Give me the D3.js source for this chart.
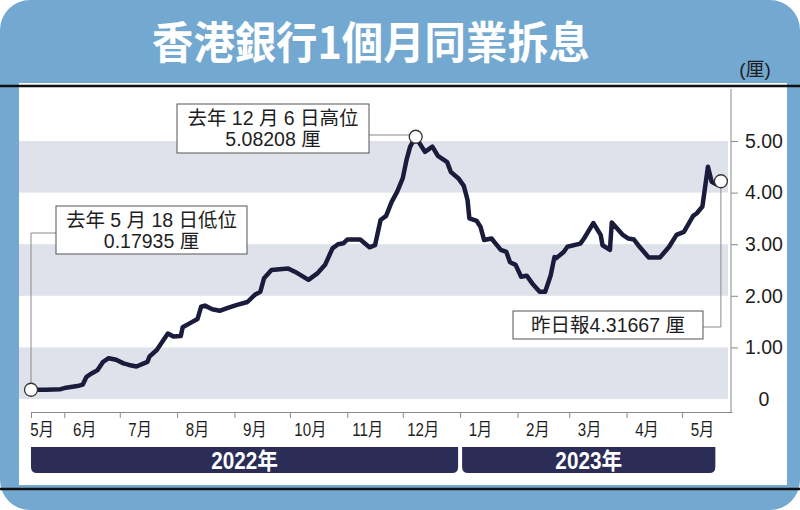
<!DOCTYPE html>
<html><head><meta charset="utf-8">
<script src="https://cdn.jsdelivr.net/npm/d3@7"></script>
<style>
body{margin:0;background:#fff}
svg{display:block}
text{font-family:"Liberation Sans","Noto Sans CJK TC",sans-serif}
</style>
</head><body>
<svg id="chart" width="800" height="510"></svg>
<script>
const title = "香港銀行1個月同業拆息";
const unitLabel = "(厘)";

const dates = [
"2022-05-14","2022-05-22","2022-05-30","2022-06-02","2022-06-08","2022-06-11","2022-06-13","2022-06-16","2022-06-19","2022-06-22","2022-06-25","2022-06-29",
"2022-07-03","2022-07-06","2022-07-10","2022-07-14","2022-07-16","2022-07-17","2022-07-21","2022-07-27","2022-07-30",
"2022-08-03","2022-08-04","2022-08-08","2022-08-12","2022-08-14","2022-08-16","2022-08-20","2022-08-24","2022-08-28",
"2022-09-02","2022-09-08","2022-09-12","2022-09-15","2022-09-17","2022-09-21","2022-09-30",
"2022-10-05","2022-10-11","2022-10-16","2022-10-20","2022-10-24","2022-10-27","2022-10-30",
"2022-11-01","2022-11-08","2022-11-13","2022-11-16","2022-11-19","2022-11-22","2022-11-25","2022-11-28",
"2022-12-01","2022-12-03","2022-12-05","2022-12-08","2022-12-10","2022-12-13","2022-12-17","2022-12-20","2022-12-25","2022-12-27","2022-12-31",
"2023-01-03","2023-01-05","2023-01-06","2023-01-10","2023-01-12","2023-01-14","2023-01-18","2023-01-20","2023-01-23","2023-01-26","2023-01-28","2023-01-31",
"2023-02-03","2023-02-06","2023-02-09","2023-02-13","2023-02-16","2023-02-19","2023-02-21","2023-02-22","2023-02-26","2023-02-28",
"2023-03-07","2023-03-09","2023-03-14","2023-03-18","2023-03-19","2023-03-23","2023-03-24","2023-03-27","2023-03-30",
"2023-04-02","2023-04-05","2023-04-08","2023-04-13","2023-04-19","2023-04-24","2023-04-28",
"2023-05-02","2023-05-07","2023-05-09","2023-05-12","2023-05-13","2023-05-15","2023-05-17","2023-05-20","2023-05-22"
];
const values = [
0.17935,0.18,0.19,0.22,0.25,0.28,0.43,0.50,0.56,0.72,0.79,0.76,
0.69,0.66,0.63,0.69,0.72,0.82,0.95,1.27,1.21,
1.22,1.39,1.47,1.55,1.79,1.81,1.74,1.71,1.76,
1.82,1.88,2.02,2.08,2.34,2.50,2.53,
2.44,2.31,2.44,2.60,2.92,3.00,3.02,
3.09,3.09,2.94,2.98,3.47,3.55,3.82,4.02,
4.28,4.63,4.89,5.08208,4.96,4.79,4.89,4.71,4.59,4.40,4.28,
4.13,3.86,3.50,3.45,3.34,3.08,3.11,3.02,2.89,2.85,2.65,2.60,
2.37,2.39,2.24,2.08,2.08,2.40,2.75,2.73,2.85,2.95,
3.01,3.11,3.41,3.18,2.98,2.89,3.42,3.30,3.18,
3.11,3.09,2.95,2.74,2.74,2.95,3.18,
3.24,3.55,3.60,3.73,3.99,4.50,4.21,4.15,4.22
];

const yTicks = [0,1,2,3,4,5];
const yTickLabels = ["0","1.00","2.00","3.00","4.00","5.00"];
const bandStarts = [0,2,4];
const monthLabels = ["5月","6月","7月","8月","9月","10月","11月","12月","1月","2月","3月","4月","5月"];
const yearLabels = ["2022年","2023年"];
const yearSpans = [["2022-05-14","2023-01-01"],["2023-01-01","2023-05-19"]];
const lowText = ["去年 5 月 18 日低位","0.17935 厘"];
const highText = ["去年 12 月 6 日高位","5.08208 厘"];
const lastText = ["昨日報4.31667 厘"];

const parse = d3.timeParse("%Y-%m-%d");
const data = dates.map((d,i)=>({date:parse(d), value:values[i]}));

const svg = d3.select("#chart");
const blue = "#73a9d1", navy = "#2b2d57", lineCol = "#1b1c3c", grey = "#8a8a8a", band = "#dfe2ea", ink = "#1e1e1e";

// background
svg.append("rect").attr("x",0).attr("y",0).attr("width",800).attr("height",510).attr("rx",30).attr("fill",blue);
svg.append("rect").attr("x",19).attr("y",83).attr("width",768).attr("height",402).attr("fill","#fff");
svg.append("line").attr("x1",0).attr("x2",800).attr("y1",86).attr("y2",86).attr("stroke","#111").attr("stroke-width",2.5);
svg.append("line").attr("x1",0).attr("x2",800).attr("y1",489).attr("y2",489).attr("stroke","#111").attr("stroke-width",2.5);

svg.append("text").attr("transform","translate(371,59) scale(0.94,1)").attr("text-anchor","middle")
  .attr("fill","#fff").attr("font-size",44).attr("font-weight",700)
  .style("font-family","'Noto Sans CJK TC','Liberation Sans',sans-serif").text(title);
svg.append("text").attr("x",755).attr("y",76).attr("text-anchor","middle")
  .attr("fill",ink).attr("font-size",19).text(unitLabel);

const x = d3.scaleTime().domain([parse("2022-05-14"), parse("2023-05-28")]).range([31, 732]);
const y = d3.scaleLinear().domain([0,5]).range([399,141]);

// bands
svg.append("g").selectAll("rect").data(bandStarts).join("rect")
  .attr("x",19).attr("width",709)
  .attr("y",d=>y(d+1)).attr("height",d=>y(d)-y(d+1))
  .attr("fill",band);

// y axis
svg.append("line").attr("x1",731).attr("x2",731).attr("y1",89).attr("y2",412).attr("stroke",grey).attr("stroke-width",1);
const yAxis = svg.append("g").attr("transform","translate(731,0)")
  .call(d3.axisRight(y).tickValues(yTicks).tickSize(7).tickFormat((d,i)=>yTickLabels[i]));
yAxis.select(".domain").remove();
yAxis.selectAll(".tick line").attr("stroke",grey).attr("opacity",d=>d===0?0:1);
yAxis.selectAll(".tick text").attr("x",33).attr("text-anchor","middle")
  .attr("font-size",19.5).attr("fill",ink).style("font-family","'Liberation Sans',sans-serif");

// x axis
const monthStarts = d3.timeMonth.range(parse("2022-06-01"), parse("2023-06-01"));
const xAxis = svg.append("g").attr("transform","translate(0,412)")
  .call(d3.axisBottom(x).tickValues([x.domain()[0], ...monthStarts]).tickSize(6).tickSizeOuter(0).tickFormat(""));
xAxis.select(".domain").attr("stroke",grey);
xAxis.selectAll(".tick line").attr("stroke",grey);

const labelDates = [d3.timeDay.offset(x.domain()[0],6), ...monthStarts.map(m=>d3.timeDay.offset(m,11))];
svg.append("g").selectAll("text").data(monthLabels).join("text")
  .attr("transform",(d,i)=>`translate(${x(labelDates[i])},436) scale(0.84,1)`).attr("text-anchor","middle")
  .attr("font-size",18).attr("fill",ink).text(d=>d);

// year bars
const yb0 = 447, yb1 = 473, r = 6;
yearLabels.forEach((lab,i)=>{
  const x0 = x(parse(yearSpans[i][0])) + (i===0?0:2);
  const x1 = x(parse(yearSpans[i][1])) - (i===0?2:0);
  svg.append("path").attr("fill",navy)
    .attr("d",`M${x0},${yb0}H${x1}V${yb1-r}Q${x1},${yb1} ${x1-r},${yb1}H${x0+r}Q${x0},${yb1} ${x0},${yb1-r}Z`);
  svg.append("text").attr("transform",`translate(${(x0+x1)/2},469) scale(0.9,1)`).attr("text-anchor","middle")
    .attr("fill","#fff").attr("font-size",23).attr("font-weight",700).text(lab);
});

// line
svg.append("path").datum(data)
  .attr("fill","none").attr("stroke",lineCol).attr("stroke-width",4.5)
  .attr("stroke-linejoin","round").attr("stroke-linecap","round")
  .attr("d",d3.line().x(d=>x(d.date)).y(d=>y(d.value)));

// annotations
const first = data[0];
const peak = data.reduce((a,b)=>b.value>a.value?b:a);
const last = data[data.length-1];
const cr = 6.5;

function box(x0,y0,w,h,lines,baselines,cx){
  svg.append("rect").attr("x",x0).attr("y",y0).attr("width",w).attr("height",h)
    .attr("fill","#fff").attr("stroke","#555").attr("stroke-width",1);
  lines.forEach((t,i)=>svg.append("text").attr("x",cx).attr("y",baselines[i])
    .attr("text-anchor","middle").attr("font-size",19.5).attr("fill",ink).text(t));
}
// low
svg.append("path").attr("fill","none").attr("stroke",grey).attr("stroke-width",1)
  .attr("d",`M${x(first.date)},${y(first.value)-cr}V233H56`);
box(56,206,191,48,lowText,[227,248],151.5);
// high
svg.append("path").attr("fill","none").attr("stroke",grey).attr("stroke-width",1)
  .attr("d",`M369,135H${x(peak.date)-cr}`);
box(177,104,192,49,highText,[125,146],273);
// last
svg.append("path").attr("fill","none").attr("stroke",grey).attr("stroke-width",1)
  .attr("d",`M703,327H${x(last.date)}V${y(last.value)+cr}`);
box(513,311,190,28,lastText,[332],608);

svg.append("g").selectAll("circle").data([first,peak,last]).join("circle")
  .attr("cx",d=>x(d.date)).attr("cy",d=>y(d.value)).attr("r",cr)
  .attr("fill","#fff").attr("stroke","#333").attr("stroke-width",1.3);
</script>
</body></html>
